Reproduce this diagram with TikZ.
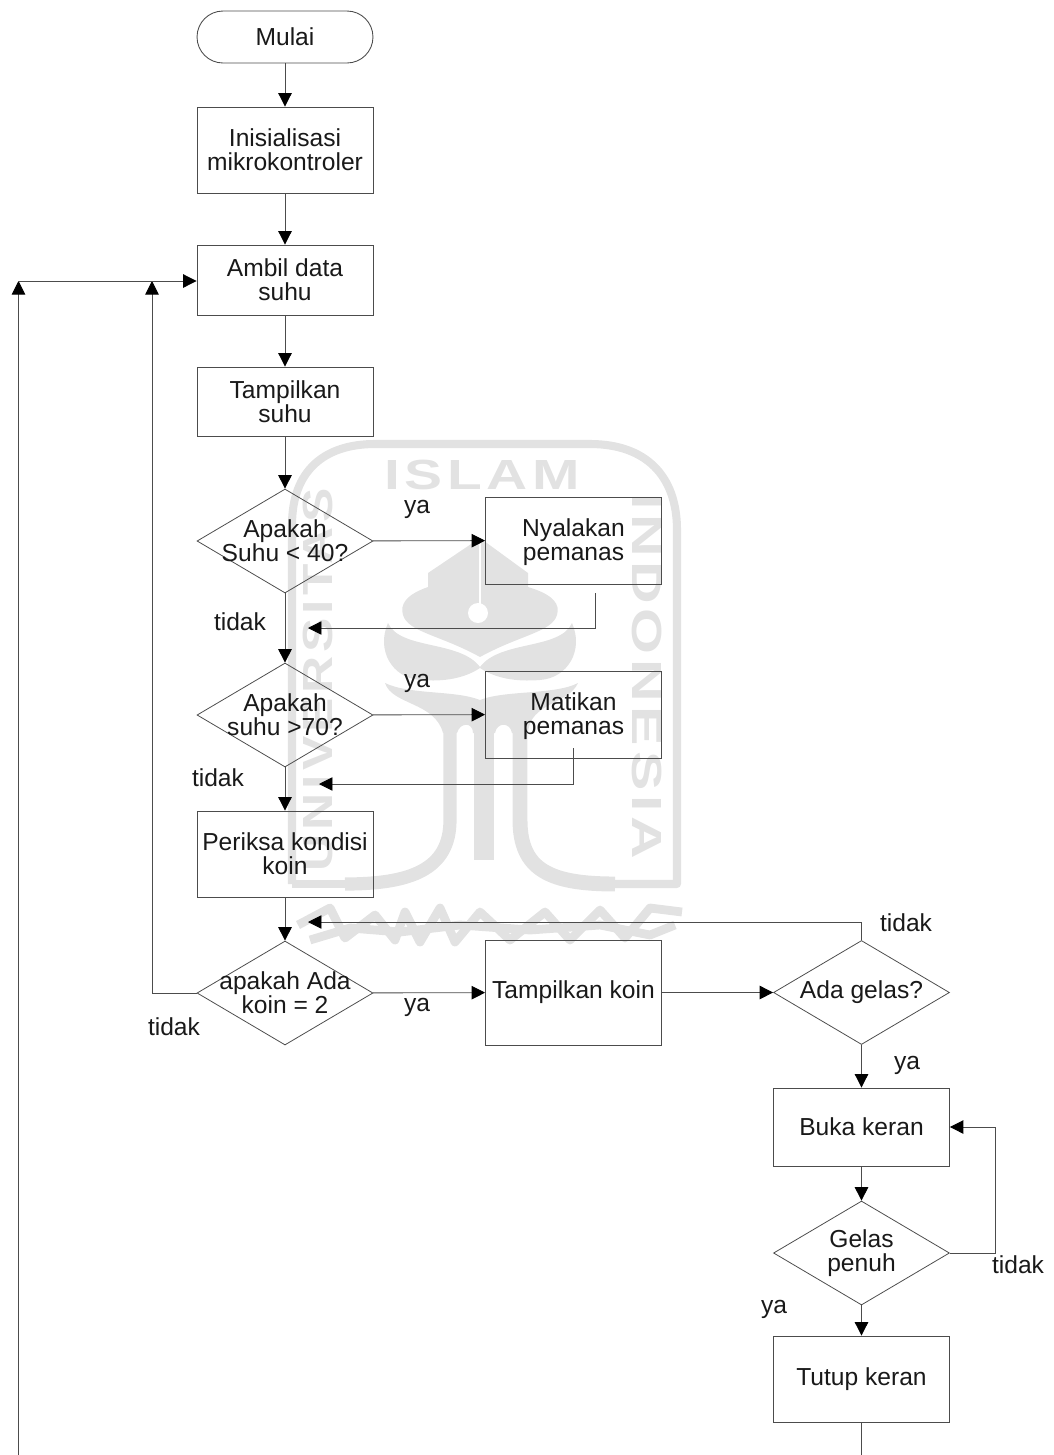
\documentclass[tikz,border=0pt]{standalone}
\usepackage{fontspec}
\setmainfont{Liberation Sans}
\usetikzlibrary{arrows.meta,shapes.geometric}
\definecolor{garis}{gray}{0.3}
\definecolor{tanda}{gray}{0.885}
\tikzset{
  teks/.style={font=\fontsize{14}{13.6}\selectfont,align=center,text=black!90},
  proses/.style={draw=garis,line width=0.5pt,minimum width=3.52cm,teks,inner sep=0pt},
  putusan/.style={draw=garis,line width=0.45pt,diamond,minimum width=3.52cm,minimum height=2.08cm,inner sep=0pt},
  isi/.style={teks,inner sep=0pt},
  panah/.style={draw=garis,line width=0.5pt,-{Triangle[length=2.7mm,width=2.7mm,black]}},
  garisan/.style={draw=garis,line width=0.5pt},
  huruf/.style={font=\fontsize{24}{24}\selectfont\bfseries,text=tanda,inner sep=0pt},
}
\begin{document}
\begin{tikzpicture}[x=0.02cm,y=-0.02cm]
\useasboundingbox (0,0) rectangle (1054,1455);
% watermark
\draw[tanda,line width=4.6pt,line join=round] (292,884) -- (292,525) .. controls (292,470) and (325,444) .. (375,444) -- (590,444) .. controls (645,444) and (677,475) .. (677,530) -- (677,884) -- (610,884);
\draw[tanda,line width=4.6pt] (292,884) -- (350,884);
\node[huruf] (wislam) at (482,475) {\scalebox{1.35}[1]{\addfontfeature{LetterSpace=8}ISLAM}};
\node[huruf,rotate=-90] (windo) at (647,676) {\scalebox{1.4}[1]{\addfontfeature{LetterSpace=8}INDONESIA}};
\node[huruf,rotate=90] (wuniv) at (318,680) {\scalebox{1.22}[1]{\addfontfeature{LetterSpace=8}UNIVERSITAS}};
\fill[tanda] (480,538) -- (428,573) -- (428,587) .. controls (405,595) and (400,605) .. (403,615) .. controls (408,632) and (440,635) .. (480,657) .. controls (520,635) and (552,632) .. (557,615) .. controls (560,605) and (555,595) .. (528,587) -- (528,573) -- cycle;
\draw[white,line width=1.5pt] (480,540) -- (480,605);
\fill[white] (478,613) circle (10);
\fill[tanda] (388,623) .. controls (376,650) and (392,678) .. (420,680) .. controls (445,682) and (465,678) .. (480,668) .. controls (495,678) and (515,682) .. (540,680) .. controls (568,678) and (584,650) .. (572,623) .. controls (560,650) and (500,640) .. (480,667) .. controls (460,640) and (400,650) .. (388,623) -- cycle;
\fill[tanda] (385,683) .. controls (392,705) and (435,702) .. (443,733) -- (457,733) .. controls (460,722) and (473,722) .. (473,733) -- (495,733) .. controls (497,722) and (510,722) .. (512,733) -- (528,733) .. controls (530,702) and (568,705) .. (578,683) .. controls (555,695) and (505,690) .. (480,700) .. controls (455,690) and (410,695) .. (385,683) -- cycle;
\draw[tanda,line width=7.5pt] (450,732) -- (450,820) .. controls (450,870) and (410,884) .. (345,884);
\draw[tanda,line width=8.5pt] (520,732) -- (520,820) .. controls (520,870) and (550,884) .. (615,884);
\draw[tanda,line width=11pt] (484,732) -- (484,860);
\draw[tanda,line width=5pt,line join=round] (298,925) -- (330,908) -- (345,938) -- (375,915) -- (395,940) -- (405,912) -- (420,942) -- (440,908) -- (455,942) -- (480,912) -- (510,940) -- (545,912) -- (570,940) -- (600,910) -- (625,938) -- (650,908) -- (682,912);
\draw[tanda,line width=5pt,line join=round] (310,940) -- (350,928) -- (400,932) -- (460,925) -- (530,930) -- (600,925) -- (650,935) -- (675,925);
% flowchart
\node[proses,rounded corners=0.52cm,minimum height=1.04cm] (mulai) at (285,37) {Mulai};
\node[proses,minimum height=1.72cm] (init) at (285,150) {Inisialisasi\\mikrokontroler};
\node[proses,minimum height=1.40cm] (ambil) at (285,280) {Ambil data\\suhu};
\node[proses,minimum height=1.38cm] (tampil) at (285,401.5) {Tampilkan\\suhu};
\node[putusan,label={[isi]center:Apakah\\Suhu < 40?}] (duga1) at (285,541) {};
\node[proses,minimum height=1.74cm,label={[isi,yshift=-1.1pt]center:Nyalakan\\pemanas}] (nyala) at (573.5,540.5) {};
\node[putusan,label={[isi]center:Apakah\\suhu >70?}] (duga2) at (285,715) {};
\node[proses,minimum height=1.74cm,label={[isi,yshift=-1.1pt]center:Matikan\\pemanas}] (mati) at (573.5,714.5) {};
\node[proses,minimum height=1.72cm] (periksa) at (285,854) {Periksa kondisi\\koin};
\node[putusan,label={[isi]center:apakah Ada\\koin = 2}] (duga3) at (285,993) {};
\node[proses,minimum height=2.10cm] (koin) at (573.5,992.5) {Tampilkan koin};
\node[putusan,label={[isi]center:Ada gelas?}] (gelas) at (861.5,992.5) {};
\node[proses,minimum height=1.56cm] (buka) at (861.5,1127) {Buka keran};
\node[putusan,label={[isi]center:Gelas\\penuh}] (penuh) at (861.5,1253) {};
\node[proses,minimum height=1.72cm] (tutup) at (861.5,1379) {Tutup keran};
% free ends
\coordinate (atas) at (18.5,281);
\coordinate (bawah) at (18.5,1455);
\coordinate (cabang) at (152,281);
\coordinate (akhir) at (861.5,1455);
\coordinate (lepas1) at (595.5,593);
\coordinate (masuk1) at (308,628);
\coordinate (lepas2) at (573.5,748);
\coordinate (masuk2) at (319,784);
\coordinate (masuk3) at (308,922);
\coordinate (sisi) at (995,1253);
% connectors
\draw[panah] (mulai) -- (init);
\draw[panah] (init) -- (ambil);
\draw[panah] (ambil) -- (tampil);
\draw[panah] (tampil) -- (duga1);
\draw[panah] (duga1) -- (duga2);
\draw[panah] (duga2) -- (periksa);
\draw[panah] (periksa) -- (duga3);
\draw[panah] (duga1) -- (nyala);
\draw[panah] (duga2) -- (mati);
\draw[panah] (duga3) -- (koin);
\draw[panah] (koin) -- (gelas);
\draw[panah] (gelas) -- (buka);
\draw[panah] (buka) -- (penuh);
\draw[panah] (penuh) -- (tutup);
\draw[garisan] (tutup) -- (akhir);
\draw[panah] (lepas1) |- (masuk1);
\draw[panah] (lepas2) |- (masuk2);
\draw[panah] (gelas.north) |- (masuk3);
\draw[panah] (duga3.west) -| (cabang);
\draw[panah] (bawah) -- (atas);
\draw[panah] (atas) -- (ambil.west |- atas);
\draw[panah] (penuh.east) -- (sisi) |- (buka.east);
% labels
\node[isi] (ya1) at (417,509) {ya};
\node[isi] (tidak1) at (240,622) {tidak};
\node[isi] (ya2) at (417,683) {ya};
\node[isi] (tidak2) at (218,778) {tidak};
\node[isi] (tidak3) at (906,923) {tidak};
\node[isi] (ya3) at (417,1007) {ya};
\node[isi] (tidak4) at (174,1027) {tidak};
\node[isi] (ya4) at (907,1065) {ya};
\node[isi] (tidak5) at (1018,1265) {tidak};
\node[isi] (ya5) at (774,1309) {ya};
\end{tikzpicture}
\end{document}
